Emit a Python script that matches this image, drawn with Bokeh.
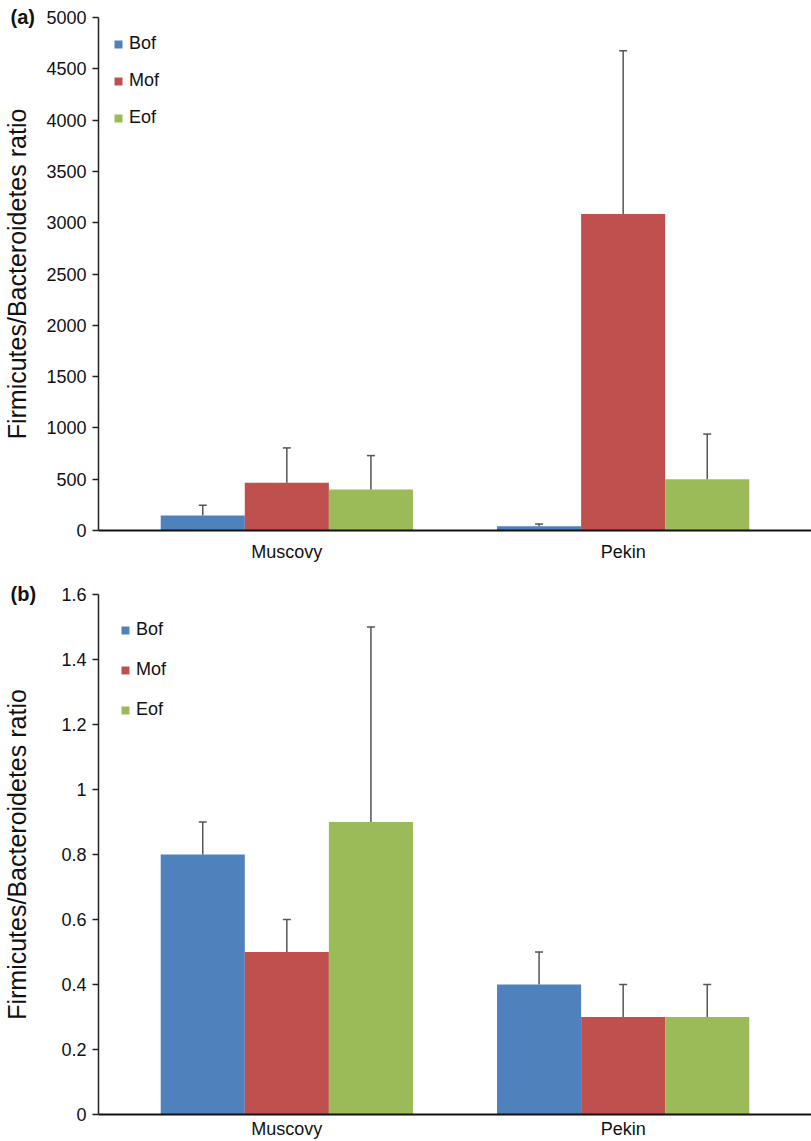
from bokeh.plotting import figure
from bokeh.models import (ColumnDataSource, Whisker, TeeHead, FixedTicker, Title,
                          FactorRange, Range1d)
from bokeh.transform import dodge
from bokeh.layouts import column
from bokeh.embed import file_html
from bokeh.resources import INLINE

categories = ["Muscovy", "Pekin"]
series = ["Bof", "Mof", "Eof"]
colors = ["#4F81BD", "#C0504D", "#9BBB59"]

# panel (a)
a_bof = [145, 42]
a_mof = [465, 3085]
a_eof = [400, 500]
a_bof_err = [100, 22]
a_mof_err = [340, 1590]
a_eof_err = [330, 440]
a_ticks = [0, 500, 1000, 1500, 2000, 2500, 3000, 3500, 4000, 4500, 5000]

# panel (b)
b_bof = [0.8, 0.4]
b_mof = [0.5, 0.3]
b_eof = [0.9, 0.3]
b_bof_err = [0.1, 0.1]
b_mof_err = [0.1, 0.1]
b_eof_err = [0.6, 0.1]
b_ticks = [0, 0.2, 0.4, 0.6, 0.8, 1, 1.2, 1.4, 1.6]

FONT = "Liberation Sans"
W = 811


def make_tag(tag):
    kw = dict(text=tag, align="left", offset=-88, text_font=FONT,
              text_font_style="bold", text_font_size="20px", text_color="#111111")
    try:
        return Title(standoff=-20, **kw)
    except Exception:
        return Title(standoff=0, **kw)


def make_panel(vals, errs, ticks, tag, height, b_top, b_bot, leg_x, leg_top,
               leg_spacing, lbl_standoff, x_standoff, overrides):
    p = figure(x_range=FactorRange(*categories, range_padding=0.06,
                                   range_padding_units="absolute"),
               y_range=Range1d(ticks[0], ticks[-1]), width=W, height=height,
               output_backend="svg", toolbar_location=None,
               min_border_left=96, min_border_right=0,
               min_border_top=b_top, min_border_bottom=b_bot)
    p.outline_line_color = None
    p.xgrid.grid_line_color = None
    p.ygrid.grid_line_color = None
    offsets = [-0.25, 0.0, 0.25]
    for s, v, e, c, off in zip(series, vals, errs, colors, offsets):
        src = ColumnDataSource(dict(cat=categories, val=v,
                                    top=[a + b for a, b in zip(v, e)]))
        p.vbar(x=dodge("cat", off, range=p.x_range), top="val", width=0.25,
               source=src, fill_color=c, line_color=None, legend_label=s)
        w = Whisker(source=src, base=dodge("cat", off, range=p.x_range),
                    lower="val", upper="top", line_color="#555555",
                    line_width=1.5, lower_head=None,
                    upper_head=TeeHead(size=8, line_color="#555555", line_width=1.5),
                    level="overlay")
        p.add_layout(w)

    ax = p.yaxis[0]
    ax.ticker = FixedTicker(ticks=ticks)
    ax.minor_tick_line_color = None
    ax.major_tick_out = 6
    ax.major_tick_in = 0
    ax.axis_line_color = "#222222"
    ax.axis_line_width = 1.5
    ax.major_tick_line_color = "#222222"
    ax.major_tick_line_width = 1.5
    ax.major_label_text_font = FONT
    ax.major_label_text_font_size = "18px"
    ax.major_label_text_color = "#111111"
    ax.major_label_standoff = 6
    ax.axis_label = "Firmicutes/Bacteroidetes ratio"
    ax.axis_label_text_font = FONT
    ax.axis_label_text_font_size = "25px"
    ax.axis_label_text_font_style = "normal"
    ax.axis_label_text_color = "#111111"
    ax.axis_label_standoff = lbl_standoff
    if overrides:
        ax.major_label_overrides = overrides

    xa = p.xaxis[0]
    xa.axis_line_color = "#111111"
    xa.axis_line_width = 2
    xa.major_tick_line_color = None
    xa.minor_tick_line_color = None
    xa.major_tick_out = 0
    xa.major_label_standoff = x_standoff
    xa.major_label_text_font = FONT
    xa.major_label_text_font_size = "18px"
    xa.major_label_text_color = "#111111"

    frame_h = height - b_top - b_bot
    n = len(series)
    leg_h = n * 20 + (n - 1) * leg_spacing
    lg = p.legend[0]
    lg.location = (leg_x, frame_h - leg_top - leg_h)
    lg.padding = 0
    lg.margin = 0
    lg.spacing = leg_spacing
    lg.glyph_width = 10
    lg.glyph_height = 10
    lg.label_standoff = 6
    lg.label_height = 20
    lg.label_text_font = FONT
    lg.label_text_font_size = "18px"
    lg.label_text_color = "#111111"
    lg.border_line_color = None
    lg.background_fill_alpha = 0

    p.add_layout(make_tag(tag), "above")
    return p


pa = make_panel([a_bof, a_mof, a_eof], [a_bof_err, a_mof_err, a_eof_err],
                a_ticks, "(a)", 577, 17, 47, 15, 19, 16, 12, 11, None)
pb = make_panel([b_bof, b_mof, b_eof], [b_bof_err, b_mof_err, b_eof_err],
                b_ticks, "(b)", 564, 17, 27, 22, 28, 19, 27, 4, {0: "0", 1: "1"})

layout = column(pa, pb, spacing=0)
open("out.html", "w").write(file_html(layout, INLINE))
